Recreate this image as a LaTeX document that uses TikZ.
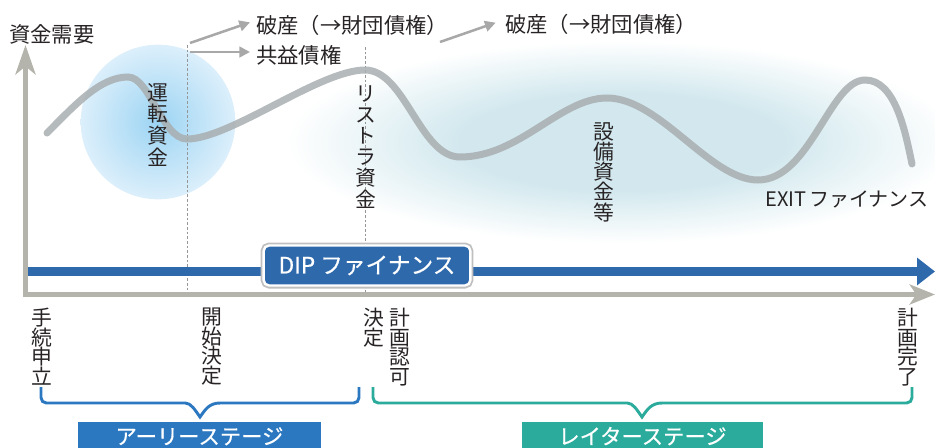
\documentclass[tikz,border=0pt]{standalone}
\usepackage{fontspec}
\setmainfont{Noto Sans CJK JP}
\newfontfamily\semib[FakeBold=0.6]{Noto Sans CJK JP}
\usetikzlibrary{arrows.meta}
\definecolor{axisgray}{RGB}{180,180,172}
\definecolor{dipblue}{RGB}{46,105,172}
\definecolor{curvegray}{RGB}{168,174,176}
\definecolor{earlyblue}{RGB}{43,120,192}
\definecolor{lateteal}{RGB}{42,171,156}
\definecolor{txt}{RGB}{40,36,37}
\definecolor{arrgray}{RGB}{168,168,168}
\definecolor{glowc}{RGB}{210,232,238}
\definecolor{circin}{RGB}{156,212,243}
\definecolor{circout}{RGB}{220,239,251}
\definecolor{dotgray}{RGB}{150,150,150}
\pgfdeclareradialshading{bigglow}{\pgfpoint{0bp}{0bp}}{color(0bp)=(glowc); color(12bp)=(glowc); color(25bp)=(white); color(50bp)=(white)}
\begin{document}
\begin{tikzpicture}[x=0.75pt,y=-0.75pt,
  lbl/.style={font=\fontsize{16pt}{16pt}\selectfont, text=txt, inner sep=0pt},
  vlbl/.style={font=\fontsize{15.6pt}{#1}\selectfont, text=txt, inner sep=0pt, align=center, anchor=north},
  axis/.style={draw=axisgray, line width=3.75pt},
  smallarrow/.style={draw=arrgray, line width=1.9pt, -{Triangle[length=8pt,width=8pt]}},
  dotline/.style={draw=dotgray, line width=0.5pt, dash pattern=on 2pt off 1.5pt},
  brace/.style={line width=2.2pt},
  stagebox/.style={anchor=north, inner sep=0pt, text height=16.5pt, text depth=12pt, text=white, font=\fontsize{16pt}{16pt}\semib},
  dipbox/.style={rounded corners=4pt, fill=dipblue, draw=white, line width=1.8pt,
     preaction={draw=black!25, line width=4.5pt}, minimum width=155pt, minimum height=30pt,
     inner sep=0pt, text=white, font=\fontsize{17pt}{17pt}\semib}
]
\useasboundingbox (0,0) rectangle (935,447);
\clip (0,0) rectangle (935,447);
% glows
\path[shading=bigglow] (622,142) ellipse [x radius=252pt, y radius=76pt];
\path[inner color=circin, outer color=circout] (158,122) circle [radius=58pt];
% dotted guides
\draw[dotline] (187,45) -- (187,292);
\draw[dotline] (365,47) -- (365,292);
% curve
\draw[draw=curvegray, opacity=0.85, line width=5.25pt, line cap=round]
  (47,133) .. controls (75,105) and (100,77) .. (128,77)
  .. controls (150,77) and (162,139) .. (187,139)
  .. controls (230,139) and (320,70) .. (365,70)
  .. controls (405,70) and (420,157) .. (460,157)
  .. controls (520,157) and (560,98) .. (607,98)
  .. controls (660,98) and (710,180) .. (758,180)
  .. controls (810,180) and (830,80) .. (865,80)
  .. controls (895,80) and (905,130) .. (912,164);
% axes
\draw[axis, -{Stealth[length=22pt,width=15pt,inset=6pt]}] (25.5,297) -- (25.5,45);
\draw[axis, -{Stealth[length=19pt,width=15pt,inset=5pt]}] (23,294.5) -- (935,294.5);
% DIP arrow
\draw[draw=dipblue, line width=6.75pt, -{Triangle[length=13.5pt,width=20pt]}] (28,271.5) -- (935,271.5);
\node[dipbox] (dip) at (367,265.5) {DIP ファイナンス};
% top labels
\node[lbl, anchor=west] (demand) at (9,34) {資金需要};
\node[lbl, anchor=west] (pa1) at (256,25) {破産（→財団債権）};
\node[lbl, anchor=west] (kyoeki) at (256,55) {共益債権};
\node[lbl, anchor=west] (pa2) at (505,24) {破産（→財団債権）};
\coordinate (a1s) at (190,43);
\coordinate (a2s) at (190,52);
\coordinate (a3s) at (440,42);
\draw[smallarrow] (a1s) -- ([xshift=-4.5pt,yshift=2pt]pa1.west);
\draw[smallarrow] (a2s) -- ([xshift=-4.5pt]kyoeki.west |- a2s);
\draw[smallarrow] (a3s) -- ([xshift=-7pt,yshift=1pt]pa2.west);
% in-chart labels
\node[vlbl=16.3pt] (unten) at (158,83) {運\\転\\資\\金};
\node[vlbl=15.9pt] (restr) at (366,85) {リ\\ス\\ト\\ラ\\資\\金};
\node[vlbl=15.2pt] (setsubi) at (604,122) {設\\備\\資\\金\\等};
\node[lbl, anchor=west, font=\fontsize{15pt}{15pt}\selectfont] (exit) at (765,199) {EXIT\hspace{2pt}ファイナンス};
% bottom labels
\node[vlbl=14.6pt] (moushi) at (42,308) {手\\続\\申\\立};
\node[vlbl=14.6pt] (kaishi) at (212,308) {開\\始\\決\\定};
\node[vlbl=14.6pt] (kettei) at (374,308) {決\\定};
\node[vlbl=14.6pt] (ninka) at (400,308) {計\\画\\認\\可};
\node[vlbl=14.6pt] (kanryo) at (908,308) {計\\画\\完\\了};
% braces
\draw[brace, draw=earlyblue, rounded corners=4pt] (41,387) -- (41,403) -- (180,403)
  [sharp corners] .. controls (191,403) and (195,410) .. (200,417)
  .. controls (205,410) and (209,403) .. (220,403)
  [rounded corners=4pt] -- (359,403) -- (359,387);
\draw[brace, draw=lateteal, rounded corners=4pt] (373,387) -- (373,403) -- (622,403)
  [sharp corners] .. controls (633,403) and (637,410) .. (642,417)
  .. controls (647,410) and (651,403) .. (662,403)
  [rounded corners=4pt] -- (912,403) -- (912,387);
% stage boxes
\node[stagebox, fill=earlyblue, minimum width=182pt] (early) at (199.5,422) {アーリーステージ};
\node[stagebox, fill=lateteal, minimum width=181pt] (late) at (642.5,422) {レイターステージ};
\end{tikzpicture}
\end{document}
